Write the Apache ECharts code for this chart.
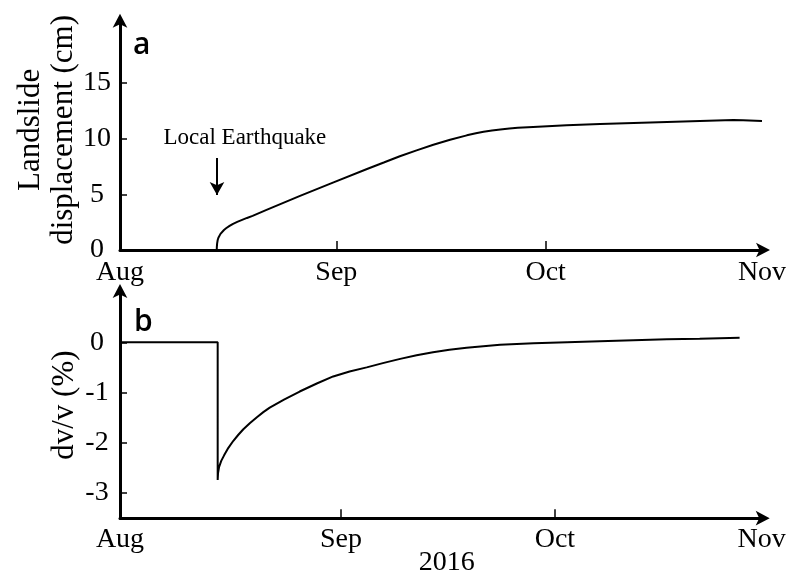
<!DOCTYPE html>
<html>
<head>
<meta charset="utf-8">
<script src="https://cdn.jsdelivr.net/npm/echarts@6/dist/echarts.min.js"></script>
<style>
html,body{margin:0;padding:0;background:#fff;}
#chart{width:795px;height:578px;}
</style>
</head>
<body>
<div id="chart"></div>
<script>
// ---- data (days counted from 1 Aug 2016) ----
const monthLabels = ['Aug', 'Sep', 'Oct', 'Nov'];
const topTickDays = [0, 31, 61, 92];
const bottomTickDays = [0, 31, 61, 90];
const dispTicks = [0, 5, 10, 15];
const dvvTicks = [0, -1, -2, -3];

const dispDays = [13.86, 13.88, 13.92, 14.0, 14.1, 14.2, 14.4, 14.6, 14.9, 15.2, 15.7, 16.2, 16.8, 17.5, 18.2, 19.0, 21.0, 25.8, 30.6, 35.4, 37.8, 40.1, 42.5, 44.9, 47.3, 49.7, 51.0, 52.1, 53.3, 54.5, 55.8, 57.0, 59.2, 64.0, 68.8, 73.6, 78.4, 83.1, 87.9, 89.3, 92.0];
const dispValues = [0, 0.3, 0.6, 0.9, 1.1, 1.25, 1.45, 1.6, 1.8, 1.95, 2.16, 2.35, 2.52, 2.7, 2.88, 3.07, 3.6, 4.86, 6.08, 7.28, 7.86, 8.42, 8.95, 9.45, 9.9, 10.3, 10.48, 10.62, 10.74, 10.83, 10.91, 10.98, 11.06, 11.2, 11.32, 11.41, 11.5, 11.59, 11.68, 11.65, 11.59];

const dvvDays = [0, 13.7, 13.7, 13.75, 13.9, 14.2, 14.6, 15.2, 15.9, 16.6, 17.3, 18.2, 19.2, 20.1, 21.0, 23.0, 25.2, 27.6, 29.9, 32.2, 34.6, 37.0, 39.3, 41.6, 43.9, 46.2, 48.6, 53.3, 58.0, 62.7, 67.3, 72.0, 76.7, 81.3, 86.9];
const dvvValues = [0, 0, -2.74, -2.6, -2.48, -2.36, -2.25, -2.1, -1.96, -1.84, -1.73, -1.61, -1.49, -1.39, -1.30, -1.14, -0.98, -0.82, -0.68, -0.58, -0.50, -0.41, -0.33, -0.26, -0.20, -0.15, -0.11, -0.05, -0.02, 0.0, 0.02, 0.04, 0.06, 0.07, 0.09];

const quakeText = 'Local Earthquake';
const quakeDay = 13.9;
const quakeArrowFrom = 8.27;
const quakeArrowTo = 4.94;
const quakeTextPos = [17.9, 10.06];

// ---- chart ----
const serif = '"Liberation Serif", "Times New Roman", serif';
const labelFont = {fontFamily: serif, fontSize: 28, color: '#000'};
const nameFont = {fontFamily: serif, fontSize: 31, color: '#000'};
const axisLineStyle = {color: '#000', width: 3};
const arrow = {show: true, symbol: ['none', 'arrow'], symbolSize: [11, 14], symbolOffset: [0, 8], lineStyle: axisLineStyle, onZero: false};
const tickStyle = {color: '#000', width: 1.5};

function monthFormatter(ticks) {
  return function (v) {
    const i = ticks.findIndex(t => Math.abs(t - v) < 1e-6);
    return i >= 0 ? monthLabels[i] : '';
  };
}
const zip = (a, b) => a.map((x, i) => [x, b[i]]);

const chart = echarts.init(document.getElementById('chart'), null, {renderer: 'canvas'});
chart.setOption({
  animation: false,
  backgroundColor: '#fff',
  grid: [
    {left: 120, right: 33, top: 21.8, bottom: 328, containLabel: false, outerBoundsMode: 'none'},
    {left: 120, right: 33.3, top: 292, bottom: 59.8, containLabel: false, outerBoundsMode: 'none'}
  ],
  xAxis: [
    {
      gridIndex: 0, type: 'value', min: 0, max: 92,
      axisLine: arrow,
      axisTick: {show: true, inside: true, length: 9, customValues: [31, 61], lineStyle: tickStyle},
      axisLabel: Object.assign({customValues: topTickDays, formatter: monthFormatter(topTickDays), margin: 9}, labelFont),
      splitLine: {show: false}
    },
    {
      gridIndex: 1, type: 'value', min: 0, max: 90,
      axisLine: arrow,
      axisTick: {show: true, inside: true, length: 9, customValues: [31, 61], lineStyle: tickStyle},
      axisLabel: Object.assign({customValues: bottomTickDays, formatter: monthFormatter(bottomTickDays), margin: 7}, labelFont),
      splitLine: {show: false},
      name: '2016', nameLocation: 'middle', nameGap: 30, nameMoveOverlap: false,
      nameTextStyle: Object.assign({padding: [0, 0, 0, 12]}, labelFont)
    }
  ],
  yAxis: [
    {
      gridIndex: 0, type: 'value', min: 0, max: 20.5,
      axisLine: arrow,
      axisTick: {show: true, inside: true, length: 7, customValues: dispTicks, lineStyle: tickStyle},
      axisLabel: Object.assign({customValues: dispTicks, align: 'center', margin: 23}, labelFont),
      splitLine: {show: false},
      name: 'Landslide\ndisplacement (cm)', nameLocation: 'middle', nameGap: 40, nameMoveOverlap: false,
      nameTextStyle: Object.assign({lineHeight: 33, padding: [0, 0, 0, 12]}, nameFont)
    },
    {
      gridIndex: 1, type: 'value', min: -3.5, max: 1,
      axisLine: arrow,
      axisTick: {show: true, inside: true, length: 7, customValues: dvvTicks, lineStyle: tickStyle},
      axisLabel: Object.assign({customValues: dvvTicks, align: 'center', margin: 23, formatter: v => String(v)}, labelFont),
      splitLine: {show: false},
      name: 'dv/v (%)', nameLocation: 'middle', nameGap: 40, nameMoveOverlap: false,
      nameTextStyle: nameFont
    }
  ],
  graphic: [
    {type: 'text', left: 133, top: 30, style: {text: 'a', font: '600 30px "Open Sans"', fill: '#000'}},
    {type: 'text', left: 134, top: 307, style: {text: 'b', font: '600 30px "Open Sans"', fill: '#000'}}
  ],
  series: [
    {
      type: 'line', xAxisIndex: 0, yAxisIndex: 0, data: zip(dispDays, dispValues),
      showSymbol: false, symbol: 'none',
      lineStyle: {color: '#000', width: 2},
      markLine: {
        silent: true, symbol: ['none', 'arrow'], symbolSize: [11, 13],
        lineStyle: {color: '#000', width: 2, type: 'solid'}, label: {show: false},
        data: [[{coord: [quakeDay, quakeArrowFrom]}, {coord: [quakeDay, quakeArrowTo]}]]
      },
      markPoint: {
        silent: true, symbol: 'circle', symbolSize: 0,
        label: {show: true, position: 'inside', formatter: quakeText, fontFamily: serif, fontSize: 23, color: '#000'},
        data: [{coord: quakeTextPos}]
      }
    },
    {
      type: 'line', xAxisIndex: 1, yAxisIndex: 1, data: zip(dvvDays, dvvValues),
      showSymbol: false, symbol: 'none', lineStyle: {color: '#000', width: 2}
    }
  ]
});
</script>
</body>
</html>
